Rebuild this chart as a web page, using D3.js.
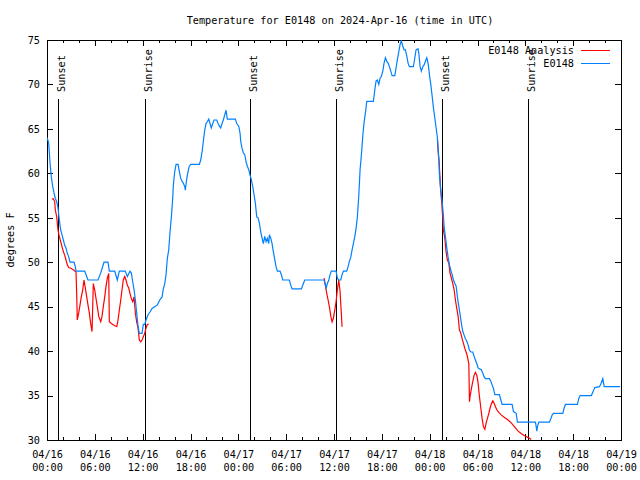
<!DOCTYPE html>
<html><head><meta charset="utf-8">
<script src="https://cdn.jsdelivr.net/npm/d3@7"></script>
<style>
body{margin:0;background:#fff;}
text{font-family:"DejaVu Sans Mono",monospace;font-size:10.2px;fill:#000;}
</style></head>
<body><svg id="chart" width="640" height="480"></svg>
<script>
// ---- data (hours since 2024-04-16 00:00 UTC) ----
const title = "Temperature for E0148 on 2024-Apr-16 (time in UTC)";
const yLabel = "degrees F";
const seriesNames = ["E0148 Analysis", "E0148"];
const xTickHours = [0, 6, 12, 18, 24, 30, 36, 42, 48, 54, 60, 66, 72];
const xMinorHours = d3.range(0, 73, 2);
const yTicks = [30, 35, 40, 45, 50, 55, 60, 65, 70, 75];
const sunHours = [1.42, 12.33, 25.51, 36.30, 49.60, 60.39];
const sunLabels = ["Sunset", "Sunrise", "Sunset", "Sunrise", "Sunset", "Sunrise"];

const obsHours = [0.04,0.21,0.38,0.54,0.72,0.88,1.04,1.22,1.38,1.54,1.72,1.88,2.05,2.22,2.38,2.55,2.72,2.89,3.39,3.55,3.64,4.73,5.14,6.40,6.74,7.15,7.65,7.82,8.49,8.82,9.07,9.82,10.08,10.41,10.58,10.75,10.92,11.08,11.25,11.42,11.58,11.92,12.08,12.26,12.42,12.67,12.92,13.17,13.51,13.84,14.18,14.43,14.59,14.77,14.93,15.09,15.27,15.43,15.60,15.77,15.85,16.02,16.19,16.44,16.60,16.78,16.94,17.10,17.28,17.35,17.53,17.69,17.85,18.03,19.11,19.28,19.45,19.61,19.79,19.95,20.11,20.29,20.45,20.61,20.79,20.95,21.29,21.46,21.62,21.79,21.96,22.12,22.30,22.46,22.62,23.63,23.80,24.05,24.22,24.30,24.47,24.63,24.81,24.97,25.13,25.31,25.47,25.63,25.81,25.97,26.14,26.31,26.47,26.64,26.81,26.98,27.14,27.31,27.48,27.64,27.82,27.89,28.07,28.23,28.39,28.57,28.73,28.90,29.23,29.40,29.57,30.40,30.58,30.74,31.91,32.16,32.33,34.76,34.92,35.01,35.17,35.35,35.51,35.67,36.26,36.42,36.60,36.85,37.01,37.18,37.60,37.77,37.93,38.11,38.27,38.43,38.61,38.77,38.93,39.11,39.27,39.44,39.61,39.77,39.94,40.11,40.94,41.12,41.28,41.44,41.62,41.78,41.94,42.12,42.28,42.45,42.62,42.79,42.95,43.12,43.29,43.63,43.79,43.95,44.13,44.29,44.45,44.63,44.79,44.96,45.13,45.29,45.46,45.96,46.14,46.30,46.55,46.64,46.80,46.96,47.14,47.30,47.47,47.64,47.80,47.97,48.14,48.31,48.47,48.65,48.81,48.97,49.15,49.22,49.40,49.56,49.72,49.81,49.97,50.15,50.31,50.48,50.65,50.82,50.98,51.16,51.32,51.48,51.66,51.82,51.98,52.16,52.32,52.48,52.66,52.82,52.99,53.16,53.41,53.58,53.74,53.91,54.08,54.24,54.49,54.67,54.83,54.99,55.49,55.67,55.83,56.00,56.17,56.75,56.93,57.09,58.34,58.51,58.85,59.01,61.27,61.36,61.44,61.52,61.69,63.02,63.20,63.36,63.52,64.70,64.87,65.03,66.54,66.71,66.88,68.29,68.47,68.72,69.30,69.47,69.72,69.89,71.89];
const obsTemps = [64,63.4,61.2,59.6,58.5,57.8,57.2,56.8,56.1,54.8,53.6,53.1,52.5,51.9,51.6,51,50.6,50,50,49.5,49,49,48,48,48.8,50,50,49,49,48,49,49,48.4,49,48.8,47.8,46.9,45.8,44.3,42.8,42,42,43,43,43.5,44.1,44.4,44.8,45,45.2,45.8,46.1,47,47.6,48.6,50.4,51.4,53.4,55.1,57.2,58.7,60.2,61,61,60.2,59.4,59.1,58.9,58.5,58.1,59.4,60.2,60.8,61,61,61.5,62.4,63.6,64.9,65.6,65.8,66.1,65.6,65.1,65.6,66,66,65.6,65.3,65.1,65.6,66,66.6,67.1,66.1,66.1,65.6,65.3,64.5,63.6,62.8,62.3,62.1,61.3,60.8,60.4,59.8,59.3,58.5,57.6,56.6,55.1,55,54.4,53.4,52.7,52.1,52.9,52.3,52.7,52.1,53.1,52.7,52.1,51.2,50.3,49.5,49,49,48.6,48,48,47.4,47,47,47.6,48,48,47.4,47.1,47.6,48,48.6,49,49,48.2,48,48,48.6,49,49,49.5,50.1,50.6,51.4,52.1,52.9,53.8,55.1,57.5,60.4,62.1,64.2,65.7,66.8,68.1,68.1,69.4,70.4,70.5,70,70.7,70.9,71.5,72.4,73,72.6,72.4,72,71.5,71,71,71.9,72.8,73.7,74.5,74.9,74.3,73.9,73.9,73.2,72.4,72,72,73,73.9,74,73.5,72,71.5,72,72.2,72.6,73,72.4,71.1,70,68.7,67.4,66.2,65.1,64,61.7,59.9,58,56.9,55.3,54,52.9,51.6,50.6,49.7,49.1,48.6,48,47.6,47.3,46.1,45,44.1,43.1,42.2,41.8,41.4,41.1,40.7,40.1,39.9,39.9,39.4,39,38.6,38.1,38,37.9,37.5,37.1,36.9,36.9,36.6,36.2,35.8,35.1,35.1,34.5,34,34,33.2,33,32,32,31.5,31,31.5,32,32,32.4,32.8,33,33,33.6,34,34,34.7,35,35,35.4,35.9,36,36.3,36.9,36,36];

// analysis (null = gap)
const anaHours = [0.63,0.79,0.97,1.04,1.22,1.29,1.38,1.54,1.72,1.88,2.05,2.22,2.38,2.55,2.72,3.05,3.39,3.64,3.73,3.80,3.98,4.14,4.30,4.48,4.64,4.81,4.98,5.14,5.31,5.48,5.65,5.81,5.98,6.15,6.31,6.49,6.74,6.90,7.06,7.24,7.40,7.57,7.74,7.82,8.07,8.41,8.75,8.91,9.07,9.25,9.41,9.57,9.75,9.91,10.08,10.25,10.41,10.58,10.75,10.92,11.00,11.08,11.25,11.42,11.58,11.76,11.92,12.08,12.26,12.42,12.58,12.76,
  null,
  34.76,34.92,35.09,35.26,35.42,35.60,35.76,35.92,36.10,36.26,36.42,36.60,36.76,36.93,37.01,
  null,
  48.97,49.10,49.19,49.35,49.53,49.63,49.72,49.90,50.06,50.22,50.40,50.56,50.73,50.90,51.07,51.23,51.40,51.57,51.73,51.91,52.07,52.23,52.41,52.57,52.73,52.91,52.99,53.07,53.24,53.41,53.58,53.74,53.91,54.08,54.24,54.42,54.58,54.74,54.92,55.08,55.24,55.42,55.58,55.75,55.92,56.09,56.25,56.42,56.67,57.00,57.43,57.84,58.26,58.68,59.10,59.51,59.94,60.35,60.73];
const anaTemps = [57.1,57.15,56.8,55.9,55.1,54.4,53.6,52.9,52.3,51.75,51.2,50.8,50.25,49.7,49.4,49.3,49.1,48.9,46.3,43.5,44.3,45.2,46.1,46.9,48,47.1,46.1,45.2,44.3,43.1,42.2,47.6,46.9,45.9,45,43.9,43.3,43.9,45,46.1,47.25,48.2,48.75,43.3,43.1,42.9,42.75,43.5,44.6,45.75,46.9,48,48.4,48,47.4,47.1,46.5,45.9,45.55,46.1,45.2,44.3,43.3,42.6,41.25,41.05,41.25,41.6,42,42.6,43,43.05,
  null,
  48.2,47.4,46.5,45.75,45,43.9,43.3,43.7,44.6,45.55,46.9,48,46.7,44.1,42.75,
  null,
  63.8,62,61.3,58.5,56.5,55.1,53.6,52.7,51.2,50.25,49.9,48.75,48.2,47.6,46.9,45.75,44.8,43.9,42.4,42,41.4,40.9,40.3,39.9,39.4,38.6,34.3,34.9,35.8,36.6,37.3,37.6,37.3,36.4,34.9,33.6,32.4,31.5,31.2,31.9,32.4,33,33.6,34.1,34.4,34.1,33.75,33.4,33.1,32.8,32.5,32.25,31.9,31.45,31,30.7,30.45,30.3,30.05];

// ---- chart ----
const base = Date.UTC(2024, 3, 16, 0, 0);
const toDate = h => new Date(base + h * 3600e3);
const W = 640, H = 480;
const m = {left: 47, right: 19, top: 40, bottom: 40};
const svg = d3.select("#chart");
const x = d3.scaleUtc().domain([toDate(0), toDate(72)]).range([m.left, W - m.right]);
const y = d3.scaleLinear().domain([30, 75]).range([H - m.bottom, m.top]);
const blue = "#0080ff", red = "#ff0000";

// title & y label
svg.append("text").attr("x", 340).attr("y", 24).attr("text-anchor", "middle").text(title);
svg.append("text").attr("transform", "translate(14,240) rotate(-90)").attr("text-anchor", "middle").text(yLabel);

// axes (ticks inward, mirrored)
const fmtD = d3.utcFormat("%m/%d"), fmtT = d3.utcFormat("%H:%M");
const gx = svg.append("g").attr("transform", `translate(0,${H - m.bottom})`)
  .call(d3.axisBottom(x).tickValues(xTickHours.map(toDate)).tickSizeInner(-6).tickSizeOuter(0).tickFormat(""));
gx.selectAll(".tick").each(function(d) {
  const t = d3.select(this).append("text").attr("fill", "#000").attr("text-anchor", "middle");
  t.append("tspan").attr("x", 0).attr("y", 18).text(fmtD(d));
  t.append("tspan").attr("x", 0).attr("y", 31).text(fmtT(d));
});
svg.append("g").attr("transform", `translate(0,${H - m.bottom})`)
  .call(d3.axisBottom(x).tickValues(xMinorHours.map(toDate)).tickSizeInner(-3).tickSizeOuter(0).tickFormat(""));
svg.append("g").attr("transform", `translate(0,${m.top})`)
  .call(d3.axisTop(x).tickValues(xTickHours.map(toDate)).tickSizeInner(-6).tickSizeOuter(0).tickFormat(""));
svg.append("g").attr("transform", `translate(0,${m.top})`)
  .call(d3.axisTop(x).tickValues(xMinorHours.map(toDate)).tickSizeInner(-3).tickSizeOuter(0).tickFormat(""));
svg.append("g").attr("transform", `translate(${m.left},0)`)
  .call(d3.axisLeft(y).tickValues(yTicks).tickSizeInner(-6).tickSizeOuter(0).tickPadding(7));
svg.append("g").attr("transform", `translate(${W - m.right},0)`)
  .call(d3.axisRight(y).tickValues(yTicks).tickSizeInner(-6).tickSizeOuter(0).tickFormat(""));
svg.selectAll(".domain").remove();
svg.selectAll(".tick line").attr("stroke", "#000").attr("shape-rendering", "crispEdges");
svg.selectAll(".tick text").attr("font-family", "DejaVu Sans Mono").attr("font-size", 10.2);
svg.append("rect").attr("x", m.left).attr("y", m.top).attr("width", W - m.left - m.right).attr("height", H - m.top - m.bottom)
  .attr("fill", "none").attr("stroke", "#000").attr("shape-rendering", "crispEdges");

// sunrise / sunset markers
const sunG = svg.append("g");
sunHours.forEach((h, i) => {
  const sx = Math.round(x(toDate(h))) + 0.5;
  sunG.append("line").attr("x1", sx).attr("x2", sx).attr("y1", m.top + 59).attr("y2", H - m.bottom).attr("stroke", "#000").attr("shape-rendering", "crispEdges");
  sunG.append("text").attr("transform", `translate(${sx + 6},${m.top + 52}) rotate(-90)`).text(sunLabels[i]);
});

// series
const clip = svg.append("clipPath").attr("id", "clip").append("rect")
  .attr("x", m.left).attr("y", m.top).attr("width", W - m.left - m.right).attr("height", H - m.top - m.bottom);
const line = d3.line().defined(d => d[0] != null && d[1] != null).x(d => x(toDate(d[0]))).y(d => y(d[1]));
const anaData = anaHours.map((h, i) => [h, anaTemps[i]]);
const obsData = obsHours.map((h, i) => [h, obsTemps[i]]);
svg.append("path").datum(anaData).attr("d", line).attr("fill", "none").attr("stroke", red).attr("stroke-width", 1.2).attr("clip-path", "url(#clip)");
svg.append("path").datum(obsData).attr("d", line).attr("fill", "none").attr("stroke", blue).attr("stroke-width", 1.2).attr("clip-path", "url(#clip)");

// legend
const lg = svg.append("g");
[[seriesNames[0], red, 50], [seriesNames[1], blue, 63]].forEach(([name, col, ly]) => {
  lg.append("text").attr("x", 574).attr("y", ly + 4).attr("text-anchor", "end").text(name);
  lg.append("line").attr("x1", 581).attr("x2", 610).attr("y1", ly + 0.5).attr("y2", ly + 0.5).attr("stroke", col).attr("shape-rendering", "crispEdges");
});
</script></body></html>
